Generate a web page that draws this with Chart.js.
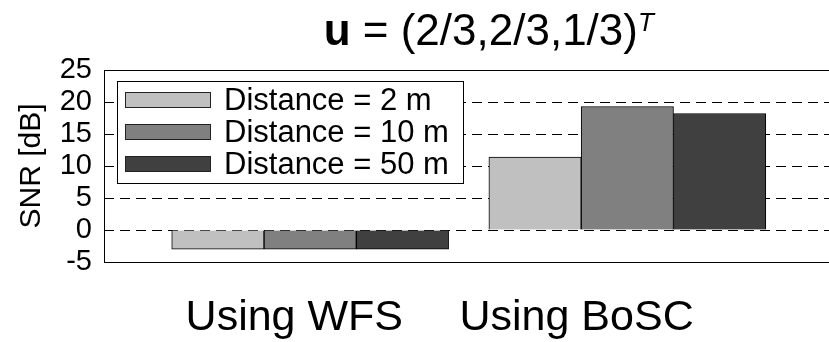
<!DOCTYPE html>
<html>
<head>
<meta charset="utf-8">
<script src="https://cdn.jsdelivr.net/npm/chart.js@4/dist/chart.umd.min.js"></script>
<style>
  html, body { margin: 0; padding: 0; background: #fff; overflow: hidden; }
  #wrap { width: 845px; height: 342px; position: relative; }
</style>
</head>
<body>
<div id="wrap"><canvas id="c"></canvas></div>
<script>
// Categories and SNR values (dB) per receiver distance
const categories = ['Using WFS', 'Using BoSC'];
const seriesLabels = ['Distance = 2 m', 'Distance = 10 m', 'Distance = 50 m'];
const snr2m  = [-3.0, 11.4];
const snr10m = [-3.0, 19.3];
const snr50m = [-3.0, 18.2];
const yTicks = [-5, 0, 5, 10, 15, 20, 25];

const fillColors = ['#c0c0c0', '#808080', '#404040'];
const FONT = '"Liberation Sans", Arial, Helvetica, sans-serif';

const toPoints = arr => arr.map((v, i) => ({ x: i + 1, y: v }));

// Title: bold u, plain vector, italic superscript T
const titlePlugin = {
  id: 'mathTitle',
  afterDraw(chart) {
    const ctx = chart.ctx;
    const a = chart.chartArea;
    const parts = [
      { t: 'u', f: 'bold 44px ' + FONT, dy: 0 },
      { t: ' = (2/3,2/3,1/3)', f: '44px ' + FONT, dy: 0 },
      { t: 'T', f: 'italic 26px ' + FONT, dy: -14 }
    ];
    ctx.save();
    let w = 0;
    parts.forEach(p => { ctx.font = p.f; p.w = ctx.measureText(p.t).width; w += p.w; });
    let x = (a.left + a.right) / 2 + 20 - w / 2;
    const base = 45;
    ctx.fillStyle = '#000';
    ctx.textBaseline = 'alphabetic';
    ctx.textAlign = 'left';
    parts.forEach(p => { ctx.font = p.f; ctx.fillText(p.t, x, base + p.dy); x += p.w; });
    ctx.restore();
  }
};

// Boxed legend in the upper-left corner of the plot
const boxLegend = {
  id: 'boxLegend',
  afterDatasetsDraw(chart) {
    const ctx = chart.ctx;
    const a = chart.chartArea;
    const bx = a.left + 13, by = a.top + 11, bw = 346, bh = 102;
    ctx.save();
    ctx.fillStyle = '#fff';
    ctx.fillRect(bx, by, bw, bh);
    ctx.strokeStyle = '#000';
    ctx.lineWidth = 1;
    ctx.setLineDash([]);
    ctx.strokeRect(bx + 0.5, by + 0.5, bw, bh);
    ctx.font = '31px ' + FONT;
    ctx.textBaseline = 'middle';
    ctx.textAlign = 'left';
    chart.data.datasets.forEach((ds, i) => {
      const cy = by + 19 + i * 32;
      ctx.fillStyle = ds.backgroundColor;
      ctx.fillRect(a.left + 21, cy - 8, 86, 16);
      ctx.strokeStyle = '#222';
      ctx.strokeRect(a.left + 21.5, cy - 7.5, 85, 15);
      ctx.fillStyle = '#000';
      ctx.fillText(ds.label, a.left + 120, cy + 1);
    });
    ctx.restore();
  }
};

// Solid axes box around the plot area
const frame = {
  id: 'frame',
  afterDraw(chart) {
    const ctx = chart.ctx;
    const a = chart.chartArea;
    ctx.save();
    ctx.strokeStyle = '#000';
    ctx.lineWidth = 1;
    ctx.setLineDash([]);
    ctx.strokeRect(Math.round(a.left) + 0.5, Math.round(a.top) + 0.5,
                   Math.round(a.right - a.left), Math.round(a.bottom - a.top));
    ctx.restore();
  }
};

new Chart(document.getElementById('c'), {
  type: 'bar',
  data: {
    datasets: [
      { label: seriesLabels[0], data: toPoints(snr2m),  backgroundColor: fillColors[0] },
      { label: seriesLabels[1], data: toPoints(snr10m), backgroundColor: fillColors[1] },
      { label: seriesLabels[2], data: toPoints(snr50m), backgroundColor: fillColors[2] }
    ]
  },
  options: {
    responsive: true,
    maintainAspectRatio: false,
    animation: false,
    events: [],
    layout: { padding: { top: 70, left: 0, right: 11.5, bottom: 0 } },
    datasets: {
      bar: {
        borderColor: '#000',
        borderWidth: 1,
        barThickness: 92.3,
        grouped: true
      }
    },
    plugins: { legend: { display: false }, title: { display: false }, tooltip: { enabled: false } },
    scales: {
      x: {
        type: 'linear',
        offset: false,
        bounds: 'data',
        min: 0.35,
        max: 2.65,
        afterBuildTicks(scale) { scale.ticks = [{ value: 0.95 }, { value: 1.84 }]; },
        afterFit(scale) { scale.height = 80; },
        grid: { display: false, drawTicks: false },
        border: { display: false },
        ticks: {
          autoSkip: false,
          maxRotation: 0,
          padding: 30,
          color: '#000',
          font: { family: FONT, size: 43 },
          callback: (v, i) => categories[i]
        }
      },
      y: {
        min: -5,
        max: 25,
        afterBuildTicks(scale) { scale.ticks = yTicks.map(v => ({ value: v })); },
        afterFit(scale) { scale.width = 104; },
        grid: {
          drawTicks: false,
          color: c => (c.tick && (c.tick.value === -5 || c.tick.value === 25)) ? 'rgba(0,0,0,0)' : '#000',
          lineWidth: 1
        },
        border: { display: false, dash: [10, 6] },
        ticks: {
          autoSkip: false,
          padding: 12,
          color: '#000',
          font: { family: FONT, size: 29 }
        },
        title: {
          display: true,
          text: 'SNR [dB]',
          color: '#000',
          font: { family: FONT, size: 30 },
          padding: { top: 14, bottom: 0 }
        }
      }
    }
  },
  plugins: [titlePlugin, boxLegend, frame]
});
</script>
</body>
</html>
